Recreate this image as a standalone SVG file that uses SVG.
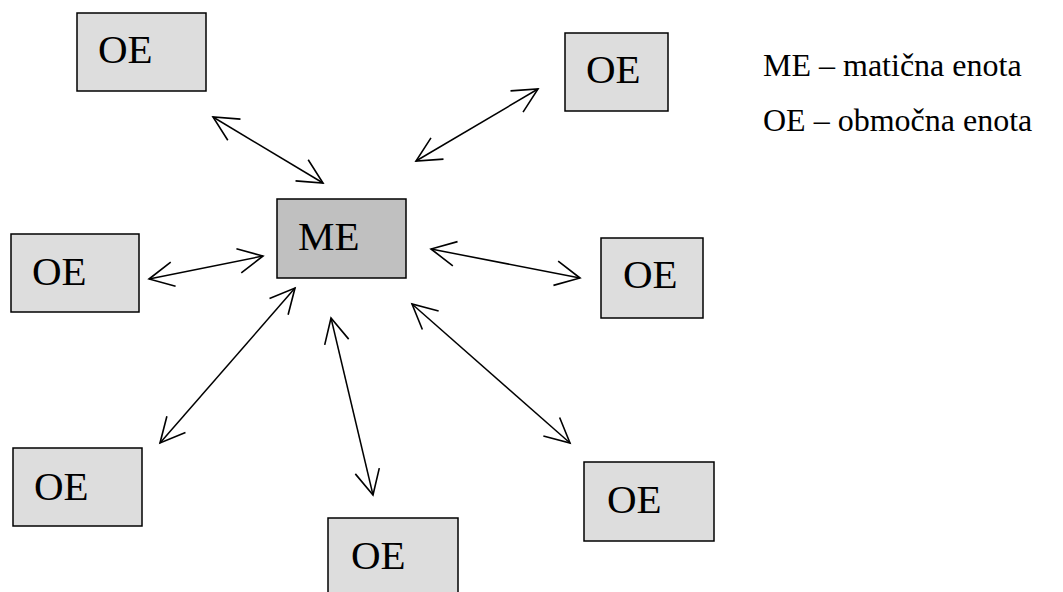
<svg xmlns="http://www.w3.org/2000/svg" width="1063" height="592" viewBox="0 0 1063 592">
  <style>
    .oe { fill: #dddddd; stroke: #000; stroke-width: 1.5; }
    .me { fill: #c0c0c0; stroke: #000; stroke-width: 1.5; }
    .lbl { font-family: "Liberation Serif", "Times New Roman", serif; font-size: 41px; fill: #000; }
    .legend { font-family: "Liberation Serif", "Times New Roman", serif; font-size: 32px; fill: #000; }
    .link { stroke: #000; stroke-width: 1.5; fill: none; marker-start: url(#head); marker-end: url(#head); }
  </style>
  <defs>
    <marker id="head" markerUnits="userSpaceOnUse" markerWidth="30" markerHeight="30" refX="0" refY="0" viewBox="-26 -14 28 28" orient="auto-start-reverse" overflow="visible">
      <path d="M-23,-11.5 L0,0 L-23,11.5" fill="none" stroke="#000" stroke-width="1.5"/>
    </marker>
  </defs>

  <rect width="1063" height="592" fill="#fff"/>

  <!-- connectors: double-headed arrows between ME and each OE -->
  <g id="connectors">
    <line class="link" x1="213" y1="117" x2="323" y2="183"/>
    <line class="link" x1="416" y1="161" x2="538" y2="89"/>
    <line class="link" x1="149" y1="279" x2="263" y2="256"/>
    <line class="link" x1="431" y1="249" x2="580" y2="278"/>
    <line class="link" x1="295" y1="288" x2="160" y2="443"/>
    <line class="link" x1="331" y1="318" x2="373" y2="495"/>
    <line class="link" x1="412" y1="304" x2="570" y2="443"/>
  </g>

  <g id="me">
    <rect class="me" x="277" y="199" width="129" height="79"/>
    <text class="lbl" x="298" y="250">ME</text>
  </g>

  <g id="oe-top-left">
    <rect class="oe" x="77" y="13" width="129" height="78"/>
    <text class="lbl" x="98" y="63">OE</text>
  </g>

  <g id="oe-top-right">
    <rect class="oe" x="565" y="33" width="103" height="78"/>
    <text class="lbl" x="586" y="83">OE</text>
  </g>

  <g id="oe-left">
    <rect class="oe" x="11" y="234" width="128" height="78"/>
    <text class="lbl" x="32" y="285">OE</text>
  </g>

  <g id="oe-right">
    <rect class="oe" x="601" y="238" width="102" height="80"/>
    <text class="lbl" x="623" y="288">OE</text>
  </g>

  <g id="oe-bottom-left">
    <rect class="oe" x="13" y="448" width="129" height="78"/>
    <text class="lbl" x="34" y="500">OE</text>
  </g>

  <g id="oe-bottom">
    <rect class="oe" x="328" y="518" width="130" height="80"/>
    <text class="lbl" x="351" y="569">OE</text>
  </g>

  <g id="oe-bottom-right">
    <rect class="oe" x="584" y="462" width="130" height="79"/>
    <text class="lbl" x="607" y="513">OE</text>
  </g>

  <g id="legend">
    <text class="legend" x="763" y="76">ME – matična enota</text>
    <text class="legend" x="763" y="131">OE – območna enota</text>
  </g>
</svg>
